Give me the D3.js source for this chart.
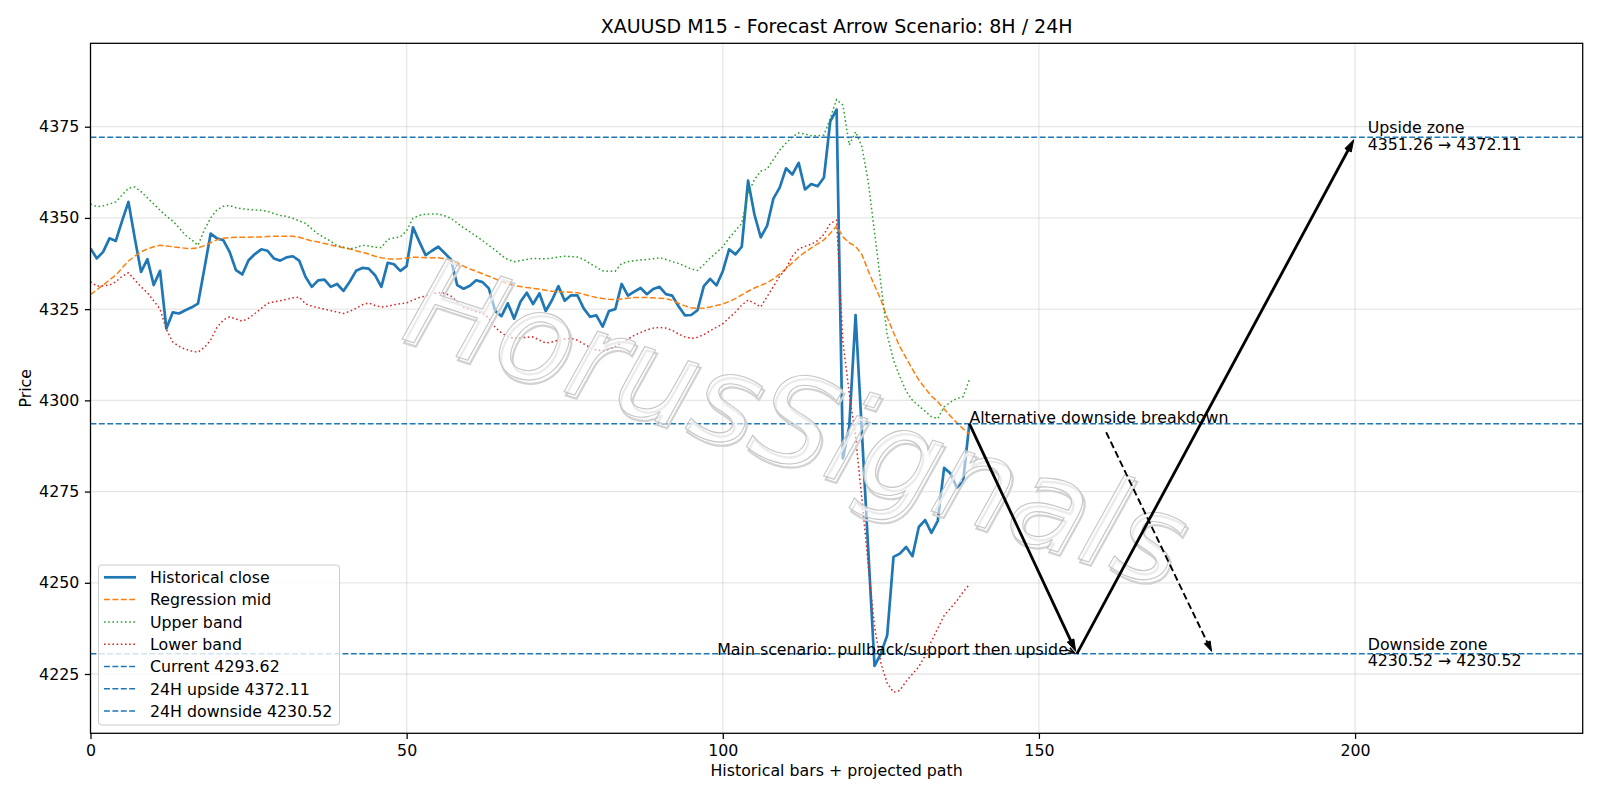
<!DOCTYPE html>
<html>
<head>
<meta charset="utf-8">
<script src="https://cdn.jsdelivr.net/npm/d3@7/dist/d3.min.js"></script>
<style>
    body { margin: 0; background: #ffffff; }
    svg text { font-family: "DejaVu Sans", sans-serif; fill: #000000; }
</style>
</head>
<body>
<script>
// 历史收盘价（M15，共 140 根）
const closeValues = [
    4341.6, 4338.9, 4340.7, 4344.4, 4343.7, 4349.2, 4354.4, 4344.5, 4335.2, 4338.7,
    4331.6, 4335.5, 4319.7, 4324.1, 4323.8, 4324.7, 4325.5, 4326.5, 4336.0, 4345.7,
    4344.4, 4343.9, 4340.7, 4335.7, 4334.5, 4338.4, 4340.1, 4341.4, 4341.0, 4338.9,
    4338.3, 4339.2, 4339.5, 4338.3, 4333.9, 4331.1, 4332.9, 4333.1, 4331.1, 4331.9,
    4330.0, 4332.5, 4335.5, 4336.3, 4336.1, 4334.3, 4331.1, 4337.7, 4337.3, 4335.5,
    4336.8, 4347.4, 4343.5, 4339.8, 4341.0, 4342.1, 4340.4, 4338.6, 4331.6, 4330.6,
    4331.4, 4332.9, 4332.4, 4330.7, 4324.5, 4323.1, 4326.6, 4322.4, 4327.0, 4329.5,
    4326.4, 4329.3, 4324.5, 4327.5, 4331.3, 4327.3, 4328.8, 4328.8, 4325.2, 4322.9,
    4323.3, 4320.2, 4324.5, 4325.0, 4331.9, 4328.7, 4329.8, 4330.8, 4329.1, 4330.5,
    4331.1, 4329.1, 4328.7, 4325.8, 4323.3, 4323.4, 4324.7, 4331.3, 4333.3, 4331.5,
    4335.4, 4341.4, 4340.0, 4342.1, 4360.2, 4351.0, 4344.7, 4347.8, 4355.3, 4358.3,
    4363.6, 4361.9, 4365.1, 4357.8, 4359.3, 4358.7, 4361.1, 4376.5, 4379.7, 4284.1,
    4292.8, 4323.4, 4291.3, 4259.2, 4227.2, 4230.6, 4235.6, 4257.1, 4258.0, 4259.8,
    4257.3, 4265.3, 4267.2, 4263.7, 4267.0, 4281.5, 4280.0, 4276.1, 4277.7, 4293.62
];

// 回归中线
const midValues = [
    4329.0, 4330.3, 4331.6, 4333.0, 4334.3, 4336.3, 4338.2, 4339.5, 4340.7, 4341.5,
    4342.1, 4342.5, 4342.3, 4342.1, 4341.9, 4341.7, 4341.6, 4341.8, 4342.4, 4343.2,
    4344.0, 4344.4, 4344.6, 4344.7, 4344.7, 4344.7, 4344.8, 4344.8, 4344.9, 4345.0,
    4345.0, 4345.0, 4345.0, 4344.7, 4344.2, 4343.7, 4343.4, 4343.0, 4342.6, 4342.2,
    4341.8, 4341.5, 4341.0, 4340.6, 4340.1, 4339.5, 4339.1, 4338.8, 4338.7, 4338.8,
    4339.0, 4339.2, 4339.2, 4339.1, 4339.1, 4339.1, 4338.8, 4338.3, 4337.6, 4336.8,
    4336.0, 4335.4, 4334.7, 4334.0, 4333.3, 4332.6, 4332.0, 4331.5, 4331.2, 4330.9,
    4330.7, 4330.5, 4330.2, 4329.9, 4329.8, 4329.7, 4329.6, 4329.5, 4329.1, 4328.6,
    4328.2, 4327.9, 4327.7, 4327.6, 4327.8, 4328.0, 4328.2, 4328.2, 4328.2, 4328.1,
    4328.0, 4327.9, 4327.4, 4326.6, 4325.9, 4325.4, 4325.2, 4325.3, 4325.6, 4326.0,
    4326.4, 4327.1, 4327.9, 4328.9, 4329.9, 4330.8, 4331.5, 4332.2, 4333.3, 4334.6,
    4336.1, 4337.7, 4339.3, 4340.6, 4341.8, 4342.9, 4344.0, 4345.8, 4347.8, 4344.8,
    4343.2, 4342.2, 4340.0, 4335.5, 4331.5, 4327.6, 4322.7, 4318.6, 4314.7, 4311.6,
    4308.5, 4305.6, 4303.3, 4301.2, 4299.6, 4297.6, 4295.7, 4293.9, 4292.2, 4290.8
];

// 上轨
const upperValues = [
    4353.8, 4353.1, 4353.3, 4353.8, 4354.4, 4356.3, 4358.1, 4358.5, 4357.2, 4355.5,
    4353.8, 4352.1, 4350.5, 4349.2, 4347.3, 4345.3, 4344.0, 4342.5, 4346.7, 4350.0,
    4352.2, 4353.2, 4353.4, 4352.8, 4352.5, 4352.3, 4352.2, 4352.1, 4351.8, 4351.2,
    4350.7, 4350.4, 4349.9, 4349.2, 4348.5, 4347.0, 4345.6, 4344.6, 4343.6, 4342.4,
    4342.0, 4341.5, 4341.9, 4342.5, 4342.3, 4342.0, 4341.9, 4344.1, 4344.5, 4344.8,
    4346.5, 4349.9, 4350.7, 4351.0, 4351.1, 4351.1, 4350.6, 4349.9, 4348.6, 4347.3,
    4346.2, 4345.0, 4343.8, 4342.5, 4341.2, 4339.7, 4338.6, 4338.0, 4338.3, 4338.6,
    4338.9, 4338.8, 4338.8, 4339.0, 4339.3, 4339.5, 4339.4, 4339.3, 4338.6, 4337.5,
    4336.5, 4335.5, 4335.4, 4335.4, 4337.5, 4338.0, 4338.3, 4338.5, 4338.6, 4338.8,
    4339.1, 4338.6, 4338.0, 4337.5, 4336.8, 4336.0, 4335.6, 4337.2, 4339.0, 4340.5,
    4342.1, 4344.5, 4346.5, 4348.5, 4356.7, 4360.5, 4362.8, 4363.4, 4366.0, 4368.6,
    4370.5, 4372.2, 4373.3, 4373.0, 4372.5, 4372.5, 4372.7, 4377.3, 4382.5, 4380.9,
    4370.0, 4373.6, 4369.5, 4360.0, 4346.0, 4332.0, 4318.0, 4311.0, 4306.5, 4302.5,
    4300.0, 4298.5, 4297.0, 4295.5, 4295.0, 4298.2, 4299.5, 4300.5, 4301.0, 4305.7
];

// 下轨
const lowerValues = [
    4332.5, 4331.3, 4331.4, 4331.6, 4332.5, 4334.0, 4335.0, 4333.0, 4331.1, 4329.5,
    4327.3, 4325.0, 4319.5, 4316.0, 4314.8, 4314.0, 4313.5, 4313.2, 4314.5, 4316.5,
    4320.0, 4322.0, 4322.9, 4322.3, 4321.7, 4322.5, 4323.8, 4325.2, 4326.6, 4327.0,
    4327.3, 4327.7, 4328.1, 4328.3, 4326.5, 4325.8, 4325.4, 4325.0, 4324.6, 4324.2,
    4323.8, 4324.4, 4325.2, 4326.2, 4326.7, 4326.0, 4325.6, 4325.8, 4326.2, 4326.5,
    4326.7, 4327.5, 4328.2, 4328.6, 4329.2, 4329.5, 4329.4, 4328.6, 4327.0, 4325.5,
    4325.0, 4324.3, 4323.9, 4322.5, 4320.0, 4318.5, 4317.5, 4317.0, 4317.1, 4317.3,
    4317.4, 4316.5, 4315.7, 4316.0, 4316.5, 4316.8, 4317.0, 4316.5, 4315.5, 4314.5,
    4313.8, 4313.6, 4314.0, 4314.8, 4315.8, 4316.8, 4317.8, 4318.6, 4319.3, 4319.8,
    4320.0, 4319.8, 4319.2, 4318.2, 4317.4, 4317.0, 4317.3, 4318.0, 4319.1, 4320.0,
    4321.0, 4322.6, 4324.2, 4326.1, 4327.5, 4326.6, 4325.6, 4328.4, 4331.2, 4334.0,
    4336.1, 4339.5, 4341.5, 4342.2, 4342.8, 4343.8, 4345.5, 4348.5, 4349.4, 4316.0,
    4302.0, 4290.0, 4273.0, 4255.0, 4238.0, 4228.0, 4222.5, 4220.0, 4220.5, 4223.0,
    4225.0, 4227.0, 4230.0, 4234.0, 4237.5, 4241.0, 4243.0, 4245.0, 4247.5, 4249.5
];

// 关键价位
const currentPrice = 4293.62;
const upsideLow = 4351.26;
const upsideTarget = 4372.11;
const downsideTarget = 4230.52;

// 预测路径（柱序号, 价格）
const mainPathX = [139, 156, 200];
const mainPathY = [currentPrice, downsideTarget, upsideTarget];
const altArrowTarget = [177.5, downsideTarget];
const zoneLabelX = 202;

// 坐标轴
const xDomain = [0, 236];
const yDomain = [4208.75, 4397.86];
const xTicks = [0, 50, 100, 150, 200];
const yTicks = [4225, 4250, 4275, 4300, 4325, 4350, 4375];

const legendLabels = [
    'Historical close', 'Regression mid', 'Upper band', 'Lower band',
    `Current ${currentPrice.toFixed(2)}`, `24H upside ${upsideTarget.toFixed(2)}`,
    `24H downside ${downsideTarget.toFixed(2)}`
];

// 线型（像素）
const DASH = '5.9,2.5';
const DOT = '1.6,2.6';

/**
 * 初始化画布
 */
const initSVG = (params) => {
    let {width, height} = params;
    return d3.select('body')
        .append('svg')
        .attr('width', width)
        .attr('height', height)
        .style('display', 'block');
};

/**
 * 画带箭头的线段（像素坐标）
 */
const drawArrow = (g, p0, p1, opts) => {
    let {width, dash, headLen, headHalf, shrink, filled} = opts;
    const dx = p1[0] - p0[0], dy = p1[1] - p0[1];
    const len = Math.hypot(dx, dy);
    const ux = dx / len, uy = dy / len;
    const nx = -uy, ny = ux;
    const tip = [p1[0] - ux * shrink, p1[1] - uy * shrink];
    const base = [tip[0] - ux * headLen, tip[1] - uy * headLen];
    const lineEnd = filled ? base : tip;

    g.append('line')
        .attr('x1', p0[0]).attr('y1', p0[1])
        .attr('x2', lineEnd[0]).attr('y2', lineEnd[1])
        .attr('stroke', '#000')
        .attr('stroke-width', width)
        .attr('stroke-dasharray', dash || null);

    const headPts = [
        [base[0] + nx * headHalf, base[1] + ny * headHalf],
        tip,
        [base[0] - nx * headHalf, base[1] - ny * headHalf]
    ];
    if (filled) {
        g.append('path')
            .attr('d', d3.line()(headPts) + 'Z')
            .attr('fill', '#000')
            .attr('stroke', '#000')
            .attr('stroke-width', 1)
            .attr('stroke-linejoin', 'miter');
    } else {
        g.append('path')
            .attr('d', d3.line()(headPts))
            .attr('fill', 'none')
            .attr('stroke', '#000')
            .attr('stroke-width', width);
    }
};

/**
 * 从文本框边缘出发，计算箭头起点
 */
const edgePoint = (box, target, pad) => {
    const cx = box.x + box.width / 2, cy = box.y + box.height / 2;
    const dx = target[0] - cx, dy = target[1] - cy;
    const hw = box.width / 2 + pad, hh = box.height / 2 + pad;
    const t = Math.min(Math.abs(hw / (dx || 1e-9)), Math.abs(hh / (dy || 1e-9)));
    return [cx + dx * t, cy + dy * t];
};

/**
 * 渲染图表
 */
const renderChart = (svg, params) => {
    let {plot, font} = params;

    const x = d3.scaleLinear().domain(xDomain).range([plot.left, plot.right]);
    const y = d3.scaleLinear().domain(yDomain).range([plot.bottom, plot.top]);

    svg.append('defs').append('clipPath')
        .attr('id', 'plot-clip')
        .append('rect')
        .attr('x', plot.left).attr('y', plot.top)
        .attr('width', plot.right - plot.left)
        .attr('height', plot.bottom - plot.top);

    // 网格线
    const grid = svg.append('g').attr('class', 'grid');
    grid.selectAll('.gx').data(xTicks).enter().append('line')
        .attr('x1', d => x(d)).attr('x2', d => x(d))
        .attr('y1', plot.top).attr('y2', plot.bottom);
    grid.selectAll('.gy').data(yTicks).enter().append('line')
        .attr('x1', plot.left).attr('x2', plot.right)
        .attr('y1', d => y(d)).attr('y2', d => y(d));
    grid.selectAll('line')
        .attr('stroke', '#b0b0b0')
        .attr('stroke-opacity', 0.3)
        .attr('stroke-width', 1.27);

    // 坐标轴
    const xAxis = svg.append('g')
        .attr('transform', `translate(0,${plot.bottom})`)
        .call(d3.axisBottom(x).tickValues(xTicks).tickFormat(d3.format('d')).tickSize(5.6).tickPadding(5.6));
    const yAxis = svg.append('g')
        .attr('transform', `translate(${plot.left},0)`)
        .call(d3.axisLeft(y).tickValues(yTicks).tickFormat(d3.format('d')).tickSize(5.6).tickPadding(5.6));
    [xAxis, yAxis].forEach(ax => {
        ax.select('.domain').remove();
        ax.selectAll('.tick line').attr('stroke', '#000').attr('stroke-width', 1.27);
        ax.selectAll('.tick text')
            .style('font-family', '"DejaVu Sans", sans-serif')
            .style('font-size', `${font}px`)
            .attr('fill', '#000');
    });

    const lines = svg.append('g').attr('clip-path', 'url(#plot-clip)');
    const lineGen = d3.line().x((d, i) => x(i)).y(d => y(d));

    const seriesDefs = [
        {values: closeValues, color: '#1f77b4', width: 2.7, dash: null},
        {values: midValues, color: '#ff7f0e', width: 1.5, dash: DASH},
        {values: upperValues, color: '#2ca02c', width: 1.5, dash: DOT},
        {values: lowerValues, color: '#d62728', width: 1.5, dash: DOT}
    ];
    seriesDefs.forEach(s => {
        lines.append('path')
            .datum(s.values)
            .attr('d', lineGen)
            .attr('fill', 'none')
            .attr('stroke', s.color)
            .attr('stroke-width', s.width)
            .attr('stroke-linejoin', 'round')
            .attr('stroke-dasharray', s.dash);
    });

    // 水平价位线
    const levelValues = [currentPrice, upsideTarget, downsideTarget];
    lines.selectAll('.level').data(levelValues).enter().append('line')
        .attr('x1', plot.left).attr('x2', plot.right)
        .attr('y1', d => y(d)).attr('y2', d => y(d))
        .attr('stroke', '#1f77b4')
        .attr('stroke-width', 1.5)
        .attr('stroke-dasharray', DASH);

    // 水印
    const wm = svg.append('g')
        .attr('transform', 'translate(797,422) rotate(18)');
    wm.append('text')
        .attr('x', 3).attr('y', 3)
        .attr('text-anchor', 'middle')
        .attr('dominant-baseline', 'central')
        .style('font-size', '124px')
        .style('font-style', 'italic')
        .style('fill', 'none')
        .attr('stroke', '#d2d2d2')
        .attr('stroke-width', 2.2)
        .text('HorusSignals');
    wm.append('text')
        .attr('text-anchor', 'middle')
        .attr('dominant-baseline', 'central')
        .style('font-size', '124px')
        .style('font-style', 'italic')
        .style('fill', '#ffffff')
        .style('fill-opacity', 0.55)
        .attr('stroke', '#c6c6c6')
        .attr('stroke-width', 1.1)
        .text('HorusSignals');

    // 预测箭头
    const arrows = svg.append('g');
    const pathPx = mainPathX.map((d, i) => [x(d), y(mainPathY[i])]);
    drawArrow(arrows, pathPx[0], pathPx[1], {width: 2.8, headLen: 12, headHalf: 3.6, shrink: 2.8, filled: true});
    drawArrow(arrows, pathPx[1], pathPx[2], {width: 2.8, headLen: 12, headHalf: 3.6, shrink: 2.8, filled: true});

    // 备选情景文字与虚线箭头
    const altText = svg.append('text')
        .attr('x', x(mainPathX[0]))
        .attr('y', y(currentPrice) - 1)
        .style('font-size', `${font}px`)
        .text('Alternative downside breakdown');
    const altTargetPx = [x(altArrowTarget[0]), y(altArrowTarget[1])];
    const altStart = edgePoint(altText.node().getBBox(), altTargetPx, 5.6);
    drawArrow(arrows, altStart, altTargetPx, {width: 1.9, dash: '7,3.5', headLen: 10, headHalf: 3.2, shrink: 2.8, filled: true});

    // 主情景文字与短箭头
    const mainText = svg.append('text')
        .attr('x', x(mainPathX[1]) - 9)
        .attr('y', y(downsideTarget) + 1)
        .attr('text-anchor', 'end')
        .style('font-size', `${font}px`)
        .text('Main scenario: pullback/support then upside');
    const mainTargetPx = [x(mainPathX[1]), y(downsideTarget)];
    const mainBox = mainText.node().getBBox();
    const mainStart = [mainBox.x + mainBox.width - 2, mainBox.y + mainBox.height / 2];
    drawArrow(arrows, mainStart, mainTargetPx, {width: 1.5, headLen: 6, headHalf: 3, shrink: 2.8, filled: false});

    // 目标区间标签
    const zoneLabels = [
        {value: upsideTarget, lines: ['Upside zone', `${upsideLow.toFixed(2)} \u2192 ${upsideTarget.toFixed(2)}`]},
        {value: downsideTarget, lines: ['Downside zone', `${downsideTarget.toFixed(2)} \u2192 ${downsideTarget.toFixed(2)}`]}
    ];
    zoneLabels.forEach(z => {
        const t = svg.append('text')
            .attr('x', x(zoneLabelX))
            .attr('y', y(z.value) - 4)
            .style('font-size', `${font}px`);
        z.lines.forEach((l, i) => {
            t.append('tspan')
                .attr('x', x(zoneLabelX))
                .attr('dy', i === 0 ? 0 : 16.6)
                .text(l);
        });
    });

    // 坐标框
    svg.append('rect')
        .attr('x', plot.left).attr('y', plot.top)
        .attr('width', plot.right - plot.left)
        .attr('height', plot.bottom - plot.top)
        .attr('fill', 'none')
        .attr('stroke', '#000')
        .attr('stroke-width', 1.27);

    // 标题与轴标签
    svg.append('text')
        .attr('x', (plot.left + plot.right) / 2)
        .attr('y', 33)
        .attr('text-anchor', 'middle')
        .style('font-size', '19px')
        .text('XAUUSD M15 - Forecast Arrow Scenario: 8H / 24H');
    svg.append('text')
        .attr('x', (plot.left + plot.right) / 2)
        .attr('y', 776)
        .attr('text-anchor', 'middle')
        .style('font-size', `${font}px`)
        .text('Historical bars + projected path');
    svg.append('text')
        .attr('transform', `translate(31,${(plot.top + plot.bottom) / 2}) rotate(-90)`)
        .attr('text-anchor', 'middle')
        .style('font-size', `${font}px`)
        .text('Price');

    renderLegend(svg, params);
};

/**
 * 图例
 */
const renderLegend = (svg, params) => {
    let {legend, font} = params;
    const styles = [
        {color: '#1f77b4', width: 2.7, dash: null},
        {color: '#ff7f0e', width: 1.5, dash: DASH},
        {color: '#2ca02c', width: 1.5, dash: DOT},
        {color: '#d62728', width: 1.5, dash: DOT},
        {color: '#1f77b4', width: 1.5, dash: DASH},
        {color: '#1f77b4', width: 1.5, dash: DASH},
        {color: '#1f77b4', width: 1.5, dash: DASH}
    ];
    const g = svg.append('g');
    g.append('rect')
        .attr('x', legend.x).attr('y', legend.y)
        .attr('width', legend.width).attr('height', legend.height)
        .attr('rx', 3)
        .attr('fill', '#ffffff')
        .attr('fill-opacity', 0.8)
        .attr('stroke', '#cccccc')
        .attr('stroke-width', 1);
    const rows = g.selectAll('.row').data(legendLabels).enter().append('g')
        .attr('transform', (d, i) => `translate(0,${legend.y + 12.3 + i * 22.3})`);
    rows.append('line')
        .attr('x1', legend.x + 5.5).attr('x2', legend.x + 37.5)
        .attr('y1', 0).attr('y2', 0)
        .attr('stroke', (d, i) => styles[i].color)
        .attr('stroke-width', (d, i) => styles[i].width)
        .attr('stroke-dasharray', (d, i) => styles[i].dash);
    rows.append('text')
        .attr('x', legend.x + 51.5)
        .attr('y', 0)
        .attr('dy', '0.36em')
        .style('font-size', `${font}px`)
        .text(d => d);
};

let renderParams = {
    width: 1600,
    height: 800,
    font: 15.8,
    plot: {left: 90.5, right: 1582.7, top: 43.3, bottom: 733.3},
    legend: {x: 98.5, y: 565, width: 241, height: 160}
};
let svg = initSVG(renderParams);
renderChart(svg, renderParams);
</script>
</body>
</html>
